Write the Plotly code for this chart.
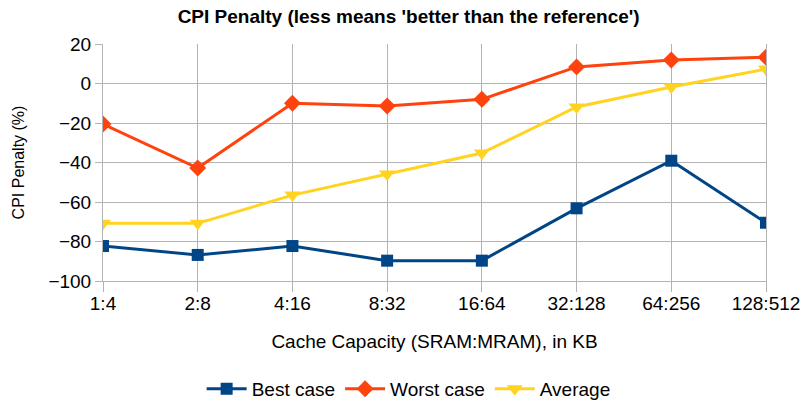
import plotly.graph_objects as go

# ----------------------------
# Data
# ----------------------------
capacities = ["1:4", "2:8", "4:16", "8:32", "16:64", "32:128", "64:256", "128:512"]
best_case = [-82.3, -86.8, -82.3, -89.7, -89.7, -63.2, -39.1, -70.5]
worst_case = [-20.5, -42.8, -10.0, -11.4, -8.0, 8.4, 11.9, 13.3]
average = [-70.8, -70.8, -56.5, -45.8, -35.2, -11.9, -1.8, 7.3]
y_ticks = [-100, -80, -60, -40, -20, 0, 20]

font_family = "Liberation Sans, Arial, sans-serif"

fig = go.Figure()

fig.add_trace(go.Scatter(
    x=capacities, y=best_case, name="Best case",
    mode="lines+markers",
    line=dict(color="#004586", width=3),
    marker=dict(symbol="square", size=12, color="#004586")
))

fig.add_trace(go.Scatter(
    x=capacities, y=worst_case, name="Worst case",
    mode="lines+markers",
    line=dict(color="#ff420e", width=3),
    marker=dict(symbol="diamond", size=13, color="#ff420e")
))

fig.add_trace(go.Scatter(
    x=capacities, y=average, name="Average",
    mode="lines+markers",
    line=dict(color="#ffd320", width=3),
    marker=dict(symbol="triangle-down", size=14, color="#ffd320")
))

fig.update_layout(
    width=803, height=402,
    margin=dict(l=103, r=37, t=44, b=121, autoexpand=False),
    paper_bgcolor="white",
    plot_bgcolor="white",
    font=dict(family=font_family, color="black", size=19),
    title=dict(
        text="<b>CPI Penalty (less means 'better than the reference')</b>",
        xref="paper", x=0.461, xanchor="center",
        y=0.96, yanchor="middle",
        font=dict(size=19)
    ),
    xaxis=dict(
        type="category",
        range=[0, 7],
        automargin=False,
        showgrid=True, gridcolor="#b3b3b3", gridwidth=1,
        ticks="outside", ticklen=10, tickcolor="#b3b3b3",
        ticklabelstandoff=-5,
        showline=True, linecolor="#b3b3b3",
        tickfont=dict(size=19),
        title=dict(text="Cache Capacity (SRAM:MRAM), in KB", font=dict(size=19), standoff=21),
        zeroline=False
    ),
    yaxis=dict(
        range=[-100, 20],
        tickvals=y_ticks,
        automargin=False,
        showgrid=True, gridcolor="#b3b3b3", gridwidth=1,
        ticks="outside", ticklen=7, tickcolor="#b3b3b3",
        showline=True, linecolor="#b3b3b3", mirror=True,
        tickfont=dict(size=19),
        title=dict(text="CPI Penalty (%)", font=dict(size=16), standoff=19),
        zeroline=False
    ),
    legend=dict(
        orientation="h",
        x=0.461, xanchor="center",
        y=-0.455, yanchor="middle",
        font=dict(size=19),
        itemwidth=40
    ),
)

fig.write_html(
    "out.html",
    config={"displayModeBar": False},
    post_script="document.body.style.margin='0';"
)
